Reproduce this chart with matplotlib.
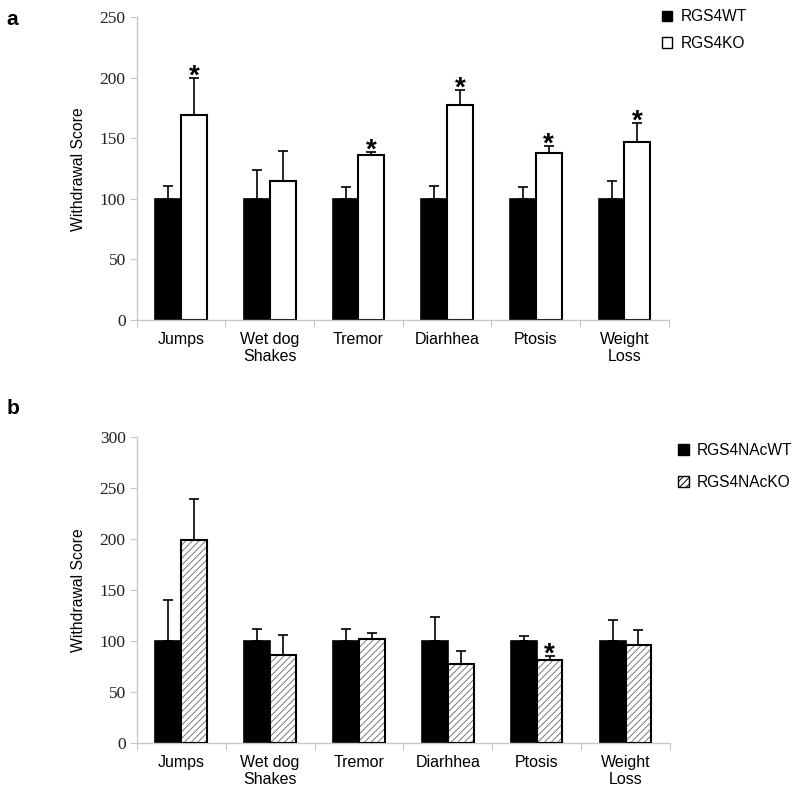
import matplotlib.pyplot as plt
from matplotlib.patches import Patch
import numpy as np

# category labels (same for both panels)
categories = ["Jumps", "Wet dog\nShakes", "Tremor", "Diarhhea", "Ptosis", "Weight\nLoss"]

# panel a: RGS4 WT vs KO
a_wt = [100, 100, 100, 100, 100, 100]
a_wt_err = [11, 24, 9.5, 11, 9.5, 14.5]
a_ko = [169, 115, 136, 178, 138, 147]
a_ko_err = [31, 25, 3, 12, 6, 16]
a_star = [True, False, True, True, True, True]

# panel b: RGS4 NAc WT vs KO
b_wt = [100, 100, 100, 100, 100, 100]
b_wt_err = [40, 12, 12, 23.5, 4.5, 20.5]
b_ko = [199, 86, 102, 77, 81, 96]
b_ko_err = [40.5, 20, 5.5, 13, 4.5, 14.5]
b_star = [False, False, False, False, True, False]

serif = ['Liberation Serif', 'DejaVu Serif']
sans = ['Liberation Sans', 'DejaVu Sans']

# y tick numbers are serif, everything else gets sans explicitly
plt.rcParams['font.family'] = serif
plt.rcParams['hatch.linewidth'] = 0.7
plt.rcParams['hatch.color'] = '#777777'

fig = plt.figure(figsize=(8, 7.9), dpi=100)
ax_a = fig.add_axes([0.171, 0.595, 0.665, 0.383])
ax_b = fig.add_axes([0.171, 0.0595, 0.6665, 0.3875])

spine_col = '#c8c8c8'
w = 0.29
x = np.arange(len(categories)) + 0.5


def style_axis(ax, ymax, step):
    ax.set_xlim(0, len(categories))
    ax.set_ylim(0, ymax)
    for s in ['top', 'right']:
        ax.spines[s].set_visible(False)
    for s in ['left', 'bottom']:
        ax.spines[s].set_color(spine_col)
        ax.spines[s].set_linewidth(1.0)
    ax.set_yticks(np.arange(0, ymax + 1, step))
    ax.tick_params(axis='y', color=spine_col, length=5, pad=3, labelsize=12.5,
                   labelcolor='#222222')
    ax.set_xticks(np.arange(0, len(categories) + 1))
    ax.set_xticklabels([])
    ax.set_xticks(x, minor=True)
    ax.set_xticklabels(categories, minor=True, family=sans, fontsize=11.5, linespacing=1.15)
    ax.tick_params(axis='x', which='major', color=spine_col, length=5)
    ax.tick_params(axis='x', which='minor', length=0, pad=9)
    ax.set_ylabel("Withdrawal Score", family=sans, fontsize=11.3)
    ax.yaxis.set_label_coords(-0.096, 0.5)


def stars(ax, ko, err, flags, off):
    for xi, v, e, f in zip(x, ko, err, flags):
        if f:
            ax.annotate("*", (xi + w / 2, v + e), xytext=(0, off), textcoords='offset points',
                        ha='center', va='center', fontsize=20, fontweight='bold', family=sans)


ekw = dict(elinewidth=1.2, capsize=3.6, capthick=1.2, ecolor='black')

# panel a
ax_a.bar(x - w / 2, a_wt, w, color='black', edgecolor='black', lw=1.2,
         yerr=[np.zeros(6), a_wt_err], error_kw=ekw, zorder=2)
ax_a.bar(x + w / 2, a_ko, w, color='white', edgecolor='black', lw=1.5,
         yerr=[np.zeros(6), a_ko_err], error_kw=ekw, zorder=2)
style_axis(ax_a, 250, 50)
stars(ax_a, a_ko, a_ko_err, a_star, 1)
fig.legend(handles=[Patch(facecolor='black', edgecolor='black', label='RGS4WT'),
                    Patch(facecolor='white', edgecolor='black', label='RGS4KO')],
           loc='upper left', bbox_to_anchor=(0.81, 1.006), frameon=False,
           prop={'family': sans, 'size': 11.2},
           handlelength=0.65, handleheight=0.65, handletextpad=0.55, labelspacing=0.75)

# panel b
ax_b.bar(x - w / 2, b_wt, w, color='black', edgecolor='black', lw=1.2,
         yerr=[np.zeros(6), b_wt_err], error_kw=ekw, zorder=2)
ax_b.bar(x + w / 2, b_ko, w, color='white', edgecolor='#777777', lw=0, hatch='/////', zorder=2)
ax_b.bar(x + w / 2, b_ko, w, color='none', edgecolor='black', lw=1.5,
         yerr=[np.zeros(6), b_ko_err], error_kw=ekw, zorder=3)
style_axis(ax_b, 300, 50)
stars(ax_b, b_ko, b_ko_err, b_star, 1)
fig.legend(handles=[Patch(facecolor='black', edgecolor='black', label='RGS4NAcWT'),
                    Patch(facecolor='white', edgecolor='black', hatch='/////', label='RGS4NAcKO')],
           loc='upper left', bbox_to_anchor=(0.83, 0.457), frameon=False,
           prop={'family': sans, 'size': 11.2},
           handlelength=0.7, handleheight=0.7, handletextpad=0.5, labelspacing=1.1)

fig.text(0.008, 0.975, "a", fontsize=15, fontweight='bold', family=sans, va='center')
fig.text(0.008, 0.483, "b", fontsize=15, fontweight='bold', family=sans, va='center')

fig.savefig("out.png", dpi=100)
